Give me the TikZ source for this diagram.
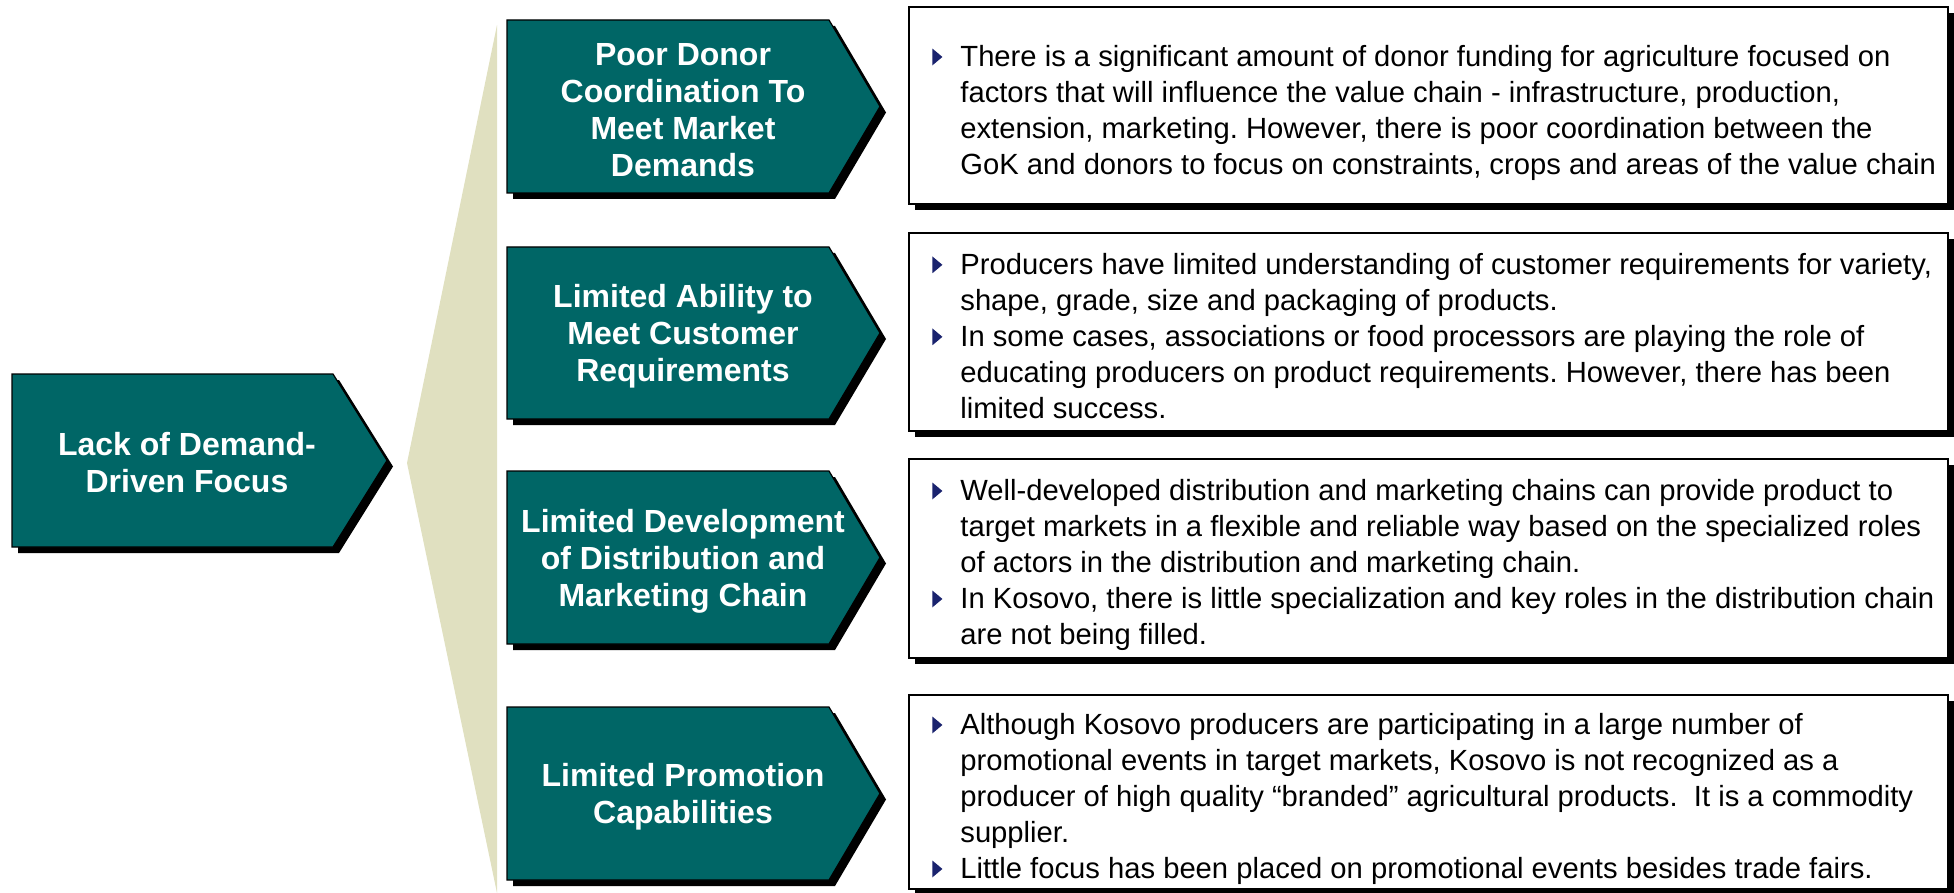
\documentclass[tikz,border=0pt]{standalone}
\usepackage{fontspec}
\setmainfont{Liberation Sans}
\usepackage{xcolor}
\usetikzlibrary{positioning}

\definecolor{chevteal}{RGB}{0,102,102}
\definecolor{wedgebeige}{RGB}{224,224,192}
\definecolor{bulnavy}{RGB}{26,35,110}

\newcommand{\tri}{\tikz[baseline=-0.6pt]\fill[bulnavy] (0pt,0pt) -- (0pt,8.4pt) -- (5pt,4.2pt) -- cycle;}
\newcommand{\bul}{\makebox[14pt][l]{\tri}}
\newcommand{\cont}{\hspace*{14pt}}

\begin{document}
\frenchspacing
\begin{tikzpicture}[x=0.5pt, y=-0.5pt,
    shp/.style={fill=chevteal, draw=black, line width=0.6pt},
    shd/.style={fill=black},
    tbox/.style={fill=white, draw=black, line width=0.8pt},
    lbl/.style={text=white, font=\bfseries\fontsize{16}{18.5}\selectfont, align=center, inner sep=0pt},
    txt/.style={font=\fontsize{14.6}{18}\selectfont, align=left, inner sep=0pt, anchor=west}
  ]
  \useasboundingbox (0,0) rectangle (1954,893);

  % wedge
  \fill[wedgebeige] (497,25) -- (407,463) -- (497,893) -- cycle;

  % main pentagon
  \fill[shd, shift={(6,6)}] (12,374) -- (333,374) -- (387,460.5) -- (333,547) -- (12,547) -- cycle;
  \draw[shp] (12,374) -- (333,374) -- (387,460.5) -- (333,547) -- (12,547) -- cycle;
  \node[lbl] (lack) at (187,463) {Lack of Demand-\\Driven Focus};

  % chevrons
  \foreach \t/\b in {20/193, 247/419, 471/644, 707/880} {
    \fill[shd, shift={(6,6)}] (507,\t) -- (829,\t) -- (880,{(\t+\b)/2}) -- (829,\b) -- (507,\b) -- cycle;
    \draw[shp] (507,\t) -- (829,\t) -- (880,{(\t+\b)/2}) -- (829,\b) -- (507,\b) -- cycle;
  }
  \node[lbl] (donor) at (683,110) {Poor Donor\\Coordination To\\Meet Market\\Demands};
  \node[lbl] (custreq) at (683,336) {Limited Ability to\\Meet Customer\\Requirements};
  \node[lbl] (distrib) at (683,561) {Limited Development\\of Distribution and\\Marketing Chain};
  \node[lbl] (promo) at (683,797) {Limited Promotion\\Capabilities};

  % text boxes
  \foreach \t/\b in {7/204, 233/431, 459/658, 695/889} {
    \fill[shd, shift={(6,6)}] (909,\t) rectangle (1948,\b);
    \draw[tbox] (909,\t) rectangle (1948,\b);
  }
  \node[txt] (donortxt) at (932,113) {\bul There is a significant amount of donor funding for agriculture focused on\\
    \cont factors that will influence the value chain - infrastructure, production,\\
    \cont extension, marketing. However, there is poor coordination between the\\
    \cont GoK and donors to focus on constraints, crops and areas of the value chain};
  \node[txt] (custtxt) at (932,336) {\bul Producers have limited understanding of customer requirements for variety,\\
    \cont shape, grade, size and packaging of products.\\
    \bul In some cases, associations or food processors are playing the role of\\
    \cont educating producers on product requirements. However, there has been\\
    \cont limited success.};
  \node[txt] (distxt) at (932,565) {\bul Well-developed distribution and marketing chains can provide product to\\
    \cont target markets in a flexible and reliable way based on the specialized roles\\
    \cont of actors in the distribution and marketing chain.\\
    \bul In Kosovo, there is little specialization and key roles in the distribution chain\\
    \cont are not being filled.};
  \node[txt] (promotxt) at (932,799) {\bul Although Kosovo producers are participating in a large number of\\
    \cont promotional events in target markets, Kosovo is not recognized as a\\
    \cont producer of high quality “branded” agricultural products.\ \ It is a commodity\\
    \cont supplier.\\
    \bul Little focus has been placed on promotional events besides trade fairs.};
\end{tikzpicture}
\end{document}
